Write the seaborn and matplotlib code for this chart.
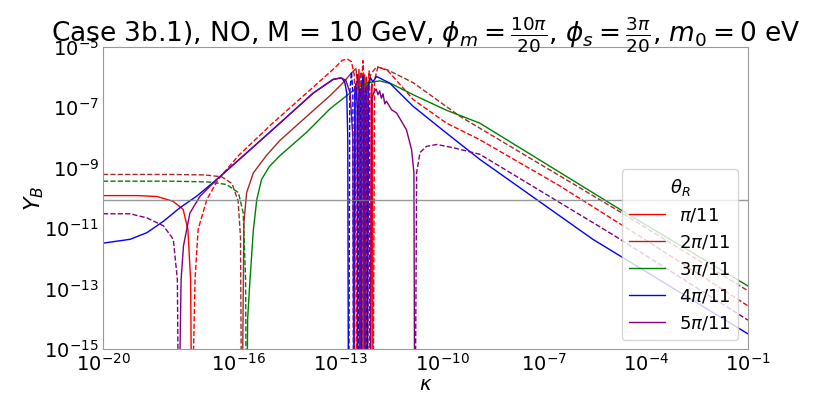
import matplotlib
matplotlib.use("Agg")
import matplotlib.pyplot as plt
from matplotlib.lines import Line2D
import seaborn as sns
import numpy as np
import pandas as pd

# values: log10(kappa) and signed Y_B
# (solid = positive Y_B, dashed = negative Y_B, 1e-17 marks a zero crossing)
red_logk = [-20, -19, -18.41, -17.94, -17.64, -17.50, -17.42, -17.39, -17.37, -17.29, -17.20,
            -16.94, -16.61, -16.0, -15.0, -14.0, -13.5, -13.2, -12.95, -12.80, -12.68, -12.60,
            -12.55, -12.53, -12.52, -12.49, -12.46, -12.43, -12.41, -12.40, -12.37, -12.34,
            -12.31, -12.29, -12.28, -12.26, -12.24, -12.22, -12.21, -12.20, -12.18, -12.16,
            -12.14, -12.13, -12.12, -12.10, -12.08, -12.06, -12.05, -12.04, -12.0, -11.9,
            -11.6, -10.86, -9.88, -8.90, -6.54, -4.0, -1.0]
red_yb = [1.2e-10, 1.2e-10, 1.12e-10, 7.8e-11, 4.2e-11, 9e-12, 2e-13, 1e-17, -1e-17, -2e-13, -9e-12,
          -9e-11, -4.1e-10, -2.6e-9, -3.0e-8, -3.0e-7, -9.5e-7, -1.9e-6, -3.6e-6, -4.0e-6, -3.2e-6, -1.2e-6,
          -1e-8, -1e-17, 1e-17, 1e-7, 1.8e-6, 2e-7, 1e-17, -1e-17, -1e-6, -3.5e-6,
          -5e-7, -1e-17, 1e-17, 3e-7, 1.0e-6, 1e-7, 1e-17, -1e-17, -6e-7, -1.6e-6,
          -2e-7, -1e-17, 1e-17, 3e-7, 6e-7, 5e-8, 1e-17, -1e-17, -8e-7, -2.2e-6,
          -1.6e-6, -1.8e-7, -3.0e-8, -8.5e-9, -2.5e-10, -4e-12, -2.7e-14]

brown_logk = [-20, -18, -17.0, -16.5, -16.2, -16.02, -15.95, -15.92, -15.90, -15.85, -15.77,
              -15.57, -15.18, -14.79, -14.0, -13.3, -12.9, -12.7, -12.55, -12.49, -12.46, -12.45,
              -12.42, -12.40, -12.37, -12.36, -12.35, -12.32, -12.29, -12.26, -12.25, -12.24,
              -12.2, -12.1, -11.94, -11.6, -10.86, -9.48, -4.77, -1.0]
brown_yb = [-6.0e-10, -6.0e-10, -5.8e-10, -5.0e-10, -3.0e-10, -8e-11, -5e-12, -1e-17, 1e-17, 1.5e-11, 1.5e-10,
            6.8e-10, 2.6e-9, 8.0e-9, 5.0e-8, 2.5e-7, 7.0e-7, 1.3e-6, 1.9e-6, 5e-7, 5e-8, -1e-17,
            -1e-6, -1.5e-6, -2e-7, -1e-17, 1e-17, 6e-7, 1.2e-6, 2e-7, 1e-17, -1e-17,
            -6e-7, -1.3e-6, -2.2e-6, -1.7e-6, -6.5e-7, -5.0e-8, -3.5e-11, -8.5e-14]

green_logk = [-20, -18, -16.9, -16.36, -16.01, -15.87, -15.80, -15.78, -15.76, -15.74, -15.67,
              -15.57, -15.47, -15.33, -15.1, -14.79, -14.0, -13.31, -12.6, -12.2, -11.85, -11.5,
              -10.86, -9.88, -8.90, -4.77, -1.0]
green_yb = [-3.6e-10, -3.6e-10, -3.4e-10, -2.8e-10, -1.5e-10, -3.2e-11, -2e-13, -1e-17, 1e-17, 1e-14, 2e-13,
            9e-12, 8.9e-11, 4.1e-10, 1.1e-9, 2.5e-9, 1.5e-8, 9.0e-8, 3.8e-7, 6.5e-7, 7.5e-7, 6.0e-7,
            2.6e-7, 8.0e-8, 3.0e-8, 4.2e-11, 1.23e-13]

blue_logk = [-20, -19.2, -18.71, -18.22, -17.73, -17.24, -16.65, -15.77, -14.79, -13.81, -13.22,
             -12.97, -12.88, -12.82, -12.79, -12.77, -12.76, -12.73, -12.68, -12.64, -12.62, -12.61,
             -12.58, -12.55, -12.51, -12.49, -12.48, -12.46, -12.43, -12.41, -12.40, -12.39,
             -12.37, -12.34, -12.31, -12.30, -12.29, -12.27, -12.25, -12.23, -12.22, -12.21,
             -12.18, -12.12, -12.05, -11.98, -11.94, -11.55, -10.86, -9.88, -8.90, -5.57, -1.0]
blue_yb = [3.2e-12, 4.3e-12, 7.1e-12, 1.7e-11, 4.8e-11, 1.15e-10, 4.1e-10, 3.1e-9, 3.0e-8, 2.95e-7, 8.5e-7,
           9.3e-7, 7e-7, 3e-7, 1e-8, 1e-17, -1e-17, -3e-7, -1.5e-6, -3e-7, -1e-17, 1e-17,
           3e-7, 6e-7, 1e-7, 1e-17, -1e-17, -2e-7, -4e-7, -1e-7, -1e-17, 1e-17,
           5e-7, 1.1e-6, 2e-7, 1e-17, -1e-17, -3e-7, -5e-7, -1e-7, -1e-17, 1e-17,
           5e-7, 9.5e-7, 7e-7, 9e-7, 1.05e-6, 6.3e-7, 1.07e-7, 1.4e-8, 1.9e-9, 4.3e-12, 3.2e-15]

purple_logk = [-20, -19.2, -18.71, -18.22, -17.93, -17.81, -17.78, -17.76, -17.70, -17.63, -17.44,
               -17.14, -16.65, -15.77, -14.79, -13.81, -13.22, -13.0, -12.85, -12.72, -12.64, -12.61,
               -12.60, -12.55, -12.50, -12.46, -12.43, -12.42, -12.38, -12.35, -12.31, -12.29,
               -12.28, -12.24, -12.20, -12.16, -12.13, -12.12, -12.08, -12.0, -11.95, -11.90,
               -11.85, -11.80, -11.75, -11.70, -11.65, -11.5, -11.35, -11.06, -10.91, -10.84,
               -10.82, -10.80, -10.76, -10.66, -10.47, -10.17, -9.68, -8.90, -5.0, -1.0]
purple_yb = [-3.0e-11, -3.0e-11, -2.2e-11, -1.2e-11, -4.3e-12, -2e-13, -1e-17, 1e-17, 2e-13, 2.6e-12, 3.2e-11,
             1.15e-10, 4.1e-10, 3.1e-9, 3.0e-8, 2.95e-7, 8.3e-7, 9.5e-7, 8e-7, 3e-7, 1e-8, 1e-17,
             -1e-17, -5e-7, -1.2e-6, -2e-7, -1e-17, 1e-17, 4e-7, 6e-7, 1e-7, 1e-17,
             -1e-17, -5e-7, -5e-7, -1e-7, -1e-17, 1e-17, 2e-7, 3.5e-7, 4e-7, 2.6e-7,
             3.5e-7, 2e-7, 2.8e-7, 1.3e-7, 1.6e-7, 8.3e-8, 6.5e-8, 1.8e-8, 4e-9, 7e-10,
             1e-17, -1e-17, -7e-10, -3.2e-9, -5.1e-9, -5.9e-9, -4.6e-9, -2.8e-9, -6.3e-12, -9.1e-15]

theta_labels = [r"$\pi/11$", r"$2\pi/11$", r"$3\pi/11$", r"$4\pi/11$", r"$5\pi/11$"]
colors = ["red", "brown", "green", "blue", "purple"]
yb_observed = 8.7e-11
x_ticks = [1e-20, 1e-16, 1e-13, 1e-10, 1e-7, 1e-4, 1e-1]
y_ticks = [1e-15, 1e-13, 1e-11, 1e-9, 1e-7, 1e-5]

curves = [(red_logk, red_yb), (brown_logk, brown_yb), (green_logk, green_yb),
          (blue_logk, blue_yb), (purple_logk, purple_yb)]

sns.set_style("white")
plt.rcParams["font.family"] = ["DejaVu Sans"]
plt.rcParams["mathtext.fontset"] = "dejavusans"
for key in ["text.color", "axes.labelcolor", "xtick.color", "ytick.color"]:
    plt.rcParams[key] = "black"

fig = plt.figure(figsize=(8.31, 3.94), dpi=100)
ax = fig.add_axes([0.124, 0.114, 0.776, 0.767])

for (logk, yb), col in zip(curves, colors):
    df = pd.DataFrame({"kappa": 10.0 ** np.array(logk), "yb": np.array(yb)})
    df["pos"] = df["yb"] > 0
    df["run"] = (df["pos"] != df["pos"].shift()).cumsum()
    for _, seg in df.groupby("run"):
        style = "-" if seg["pos"].iloc[0] else "--"
        sns.lineplot(x=seg["kappa"], y=seg["yb"].abs(), ax=ax, color=col, lw=1,
                     linestyle=style, sort=False, estimator=None, legend=False)

ax.axhline(yb_observed, color="gray", lw=1, alpha=0.8)

ax.set_xscale("log")
ax.set_yscale("log")
ax.set_xlim(1e-20, 1e-1)
ax.set_ylim(1e-15, 1e-5)
ax.set_xticks(x_ticks)
ax.set_yticks(y_ticks)
ax.minorticks_off()
ax.tick_params(labelsize=14, length=2, pad=1, color="gray")
for sp in ax.spines.values():
    sp.set_color("#999999")

ax.set_xlabel(r"$\kappa$", fontsize=14, labelpad=0)
ax.set_ylabel(r"$Y_B$", fontsize=16, labelpad=-1)
ax.set_title(r"Case 3b.1), NO, M = 10 GeV, $\phi_m = \frac{10\pi}{20}$, $\phi_s = \frac{3\pi}{20}$, $m_0 = 0$ eV",
             fontsize=19, pad=3)

handles = [Line2D([0], [0], color=c, lw=1) for c in colors]
ax.legend(handles=handles, labels=theta_labels, title=r"$\theta_R$", loc="lower right",
          fontsize=13, title_fontsize=13, bbox_to_anchor=(0.985, 0.03), borderaxespad=0,
          handlelength=2.0)

fig.savefig("out.png", dpi=100)
